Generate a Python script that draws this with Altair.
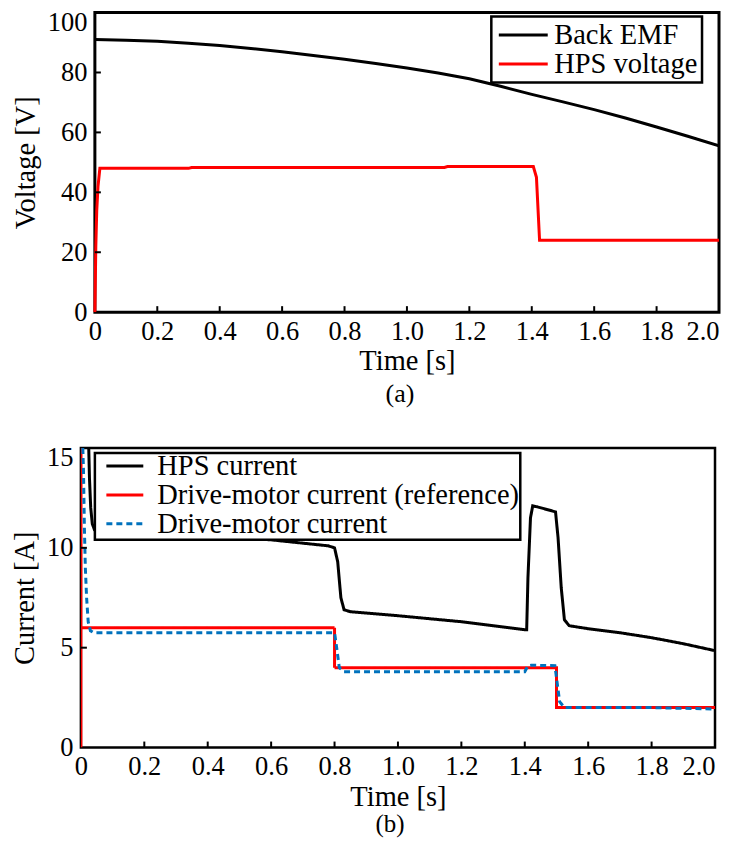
import altair as alt
import pandas as pd

FONT = "Liberation Serif"

# ---------------- Panel (a): voltages ----------------
emf_t = [0.0, 0.1, 0.2, 0.3, 0.4, 0.5, 0.6, 0.7, 0.8, 0.9, 1.0, 1.1, 1.2, 1.3, 1.4, 1.5, 1.6, 1.7, 1.8, 1.9, 2.0]
emf_v = [91.0, 90.8, 90.4, 89.8, 89.0, 88.0, 86.9, 85.7, 84.4, 83.0, 81.5, 79.8, 77.9, 75.4, 72.7, 70.2, 67.6, 64.8, 61.8, 58.7, 55.5]

hpsv_t = [0.0, 0.003, 0.006, 0.010, 0.016, 0.30, 0.31, 1.12, 1.13, 1.405, 1.415, 1.425, 2.0]
hpsv_v = [0.0, 22.0, 34.0, 42.0, 48.0, 48.0, 48.3, 48.3, 48.6, 48.6, 45.0, 24.0, 24.0]

names_a = ["Back EMF", "HPS voltage"]

# ---------------- Panel (b): currents ----------------
hpsi_t = [0.024, 0.027, 0.031, 0.036, 0.043, 0.06, 0.2, 0.4, 0.6, 0.78, 0.80, 0.81, 0.82, 0.83, 0.85, 1.0, 1.2,
          1.40, 1.406, 1.41, 1.418, 1.425, 1.44, 1.497, 1.505, 1.515, 1.525, 1.54, 1.6, 1.7, 1.8, 1.9, 2.0]
hpsi_v = [15.5, 13.5, 12.0, 11.2, 10.9, 10.8, 10.75, 10.6, 10.4, 10.1, 10.0, 9.3, 7.5, 6.9, 6.8, 6.6, 6.3,
          5.9, 5.9, 8.5, 11.5, 12.1, 12.05, 11.8, 10.5, 8.0, 6.4, 6.1, 5.95, 5.75, 5.5, 5.2, 4.85]

ref_t = [0.0, 0.0, 0.0, 0.8, 0.8, 1.5, 1.5, 2.0]
ref_v = [0.0, 16.0, 6.0, 6.0, 4.0, 4.0, 2.0, 2.0]

mot_t = [0.004, 0.008, 0.011, 0.014, 0.018, 0.023, 0.030, 0.040, 0.80, 0.805, 0.815, 0.83, 1.40, 1.41, 1.42,
         1.495, 1.50, 1.51, 1.525, 1.8, 2.0]
mot_v = [16.0, 14.0, 11.0, 9.0, 7.5, 6.3, 5.85, 5.75, 5.75, 5.2, 4.0, 3.8, 3.8, 4.1, 4.12,
         4.1, 3.5, 2.3, 2.0, 2.0, 1.93]

names_b = ["HPS current", "Drive-motor current (reference)", "Drive-motor current"]

x_ticks = [0.0, 0.2, 0.4, 0.6, 0.8, 1.0, 1.2, 1.4, 1.6, 1.8, 2.0]
x_inner = [0.2, 0.4, 0.6, 0.8, 1.0, 1.2, 1.4, 1.6, 1.8]
ya_ticks = [0, 20, 40, 60, 80, 100]
ya_inner = [20, 40, 60, 80]
yb_ticks = [0, 5, 10, 15]
yb_inner = [5, 10]


def long_df(series):
    rows = []
    for name, ts, vs in series:
        for i, (t, v) in enumerate(zip(ts, vs)):
            rows.append({"series": name, "t": t, "v": v, "i": i})
    return pd.DataFrame(rows)


df_a = long_df([("Back EMF", emf_t, emf_v), ("HPS voltage", hpsv_t, hpsv_v)])
df_b = long_df([("HPS current", hpsi_t, hpsi_v),
                ("Drive-motor current (reference)", ref_t, ref_v),
                ("Drive-motor current", mot_t, mot_v)])

x_label_expr = "datum.value == 0 ? '0' : format(datum.value, '.1f')"
LABEL_SIZE = 26.5
LEGEND_SIZE = 28.5


def x_axis(lab_pad, title_pad, title_size):
    return alt.Axis(values=x_ticks, labelExpr=x_label_expr, title="Time [s]",
                    ticks=False, domain=False, grid=False,
                    labelFont=FONT, labelFontSize=LABEL_SIZE, labelColor="black",
                    titleFont=FONT, titleFontSize=title_size, titleFontWeight="normal", titleColor="black",
                    labelAlign={"condition": {"test": "datum.value >= 1.99", "value": "right"}, "value": "center"},
                    labelPadding=lab_pad, titlePadding=title_pad)


def y_axis(vals, top, title, off):
    return alt.Axis(values=vals, title=title, ticks=False, domain=False, grid=False, offset=off,
                    labelFont=FONT, labelFontSize=LABEL_SIZE, labelColor="black",
                    titleFont=FONT, titleFontSize=28.5, titleFontWeight="normal", titleColor="black",
                    labelBaseline={"condition": {"test": f"datum.value >= {top}", "value": "top"}, "value": "middle"},
                    labelOffset={"condition": {"test": f"datum.value >= {top}", "value": -3}, "value": 0},
                    labelPadding=8, titlePadding=7)


def panel(df, names, colors, dashes, ydom, yvals, yinner, ytitle, W, H, left, legend, frame_w,
          caption, cap_dx, cap_off, cap_size, lab_pad, title_pad, title_size):
    # left: blank pixels between the group origin and the plotting frame
    xsc = alt.Scale(domain=[0, 2.0], nice=False, zero=False, range=[left, W])
    ysc = alt.Scale(domain=ydom, nice=False, zero=False)
    xax = x_axis(lab_pad, title_pad, title_size)
    yax = y_axis(yvals, ydom[1], ytitle, -left)
    frame = alt.Chart(pd.DataFrame({"k": [0]})).mark_rect(
        fillOpacity=0, stroke="black", strokeWidth=frame_w).encode(
        x=alt.value(left), x2=alt.value(W), y=alt.value(0), y2=alt.value(H))
    enc = dict(
        x=alt.X("t:Q", scale=xsc, axis=xax),
        y=alt.Y("v:Q", scale=ysc, axis=yax),
        color=alt.Color("series:N", scale=alt.Scale(domain=names, range=colors), legend=legend),
        order="i:Q",
    )
    if dashes is not None:
        enc["strokeDash"] = alt.StrokeDash("series:N", scale=alt.Scale(domain=names, range=dashes), legend=legend)
    lines = alt.Chart(df).mark_line(strokeWidth=3, clip=True).encode(**enc)
    xt = alt.Chart(pd.DataFrame({"t": x_inner})).mark_rule(color="black", strokeWidth=2).encode(
        x=alt.X("t:Q", scale=xsc, axis=xax), y=alt.value(H), y2=alt.value(H - 6))
    yt = alt.Chart(pd.DataFrame({"v": yinner})).mark_rule(color="black", strokeWidth=2).encode(
        y=alt.Y("v:Q", scale=ysc, axis=yax), x=alt.value(left), x2=alt.value(left + 6))
    return alt.layer(frame, lines, xt, yt).properties(
        width=W, height=H,
        view=alt.ViewBackground(stroke="transparent", strokeWidth=0),
        title=alt.TitleParams(caption, orient="bottom", font=FONT, fontSize=cap_size, fontWeight="normal",
                              color="black", offset=cap_off, dx=cap_dx),
    )


# legend symbols: a horizontal stroke twice as long as the symbol box
LEG_PATH = "M-1,0H3"
leg_a = alt.Legend(title=None, orient="none", legendX=411, legendY=4, direction="vertical",
                   symbolType=LEG_PATH, symbolSize=600, symbolStrokeWidth=3, symbolOffset=1.5,
                   labelFont=FONT, labelFontSize=LEGEND_SIZE, labelColor="black", labelOffset=29, labelLimit=0,
                   strokeColor="black", fillColor="white", padding=4, rowPadding=0, clipHeight=29,
                   cornerRadius=0)
leg_b = alt.Legend(title=None, orient="none", legendX=14, legendY=5, direction="vertical",
                   symbolType=LEG_PATH, symbolSize=342, symbolStrokeWidth=3, symbolOffset=5.5,
                   labelFont=FONT, labelFontSize=LEGEND_SIZE, labelColor="black", labelOffset=27.5, labelLimit=0,
                   strokeColor="black", fillColor="white", padding=1, rowPadding=0, clipHeight=24,
                   cornerRadius=0)

top = panel(df_a, names_a, ["#000000", "#ff0000"], None, [0, 100], ya_ticks, ya_inner, "Voltage [V]",
            639, 300, 14, leg_a, 3, "(a)", 0, 6, 26, 6, 2, 28.5)
bottom = panel(df_b, names_b, ["#000000", "#ff0000", "#0072bd"], [[1, 0], [1, 0], [6, 4]], [0, 15],
               yb_ticks, yb_inner, "Current [A]", 635, 300, 0, leg_b, 2.5, "(b)", -8, 1, 25, 6, 3, 28.5)

chart = alt.concat(top, bottom, columns=1, spacing=38).resolve_scale(
    color="independent", strokeDash="independent", x="independent", y="independent"
).resolve_legend(color="independent", strokeDash="independent").properties(
    padding={"left": 2, "top": 1, "right": 0, "bottom": 0},
).configure(font=FONT).configure_legend(strokeWidth=2.5, labelFont=FONT, labelLimit=0)

chart.save("out.html", embed_options={"renderer": "svg", "actions": False})
